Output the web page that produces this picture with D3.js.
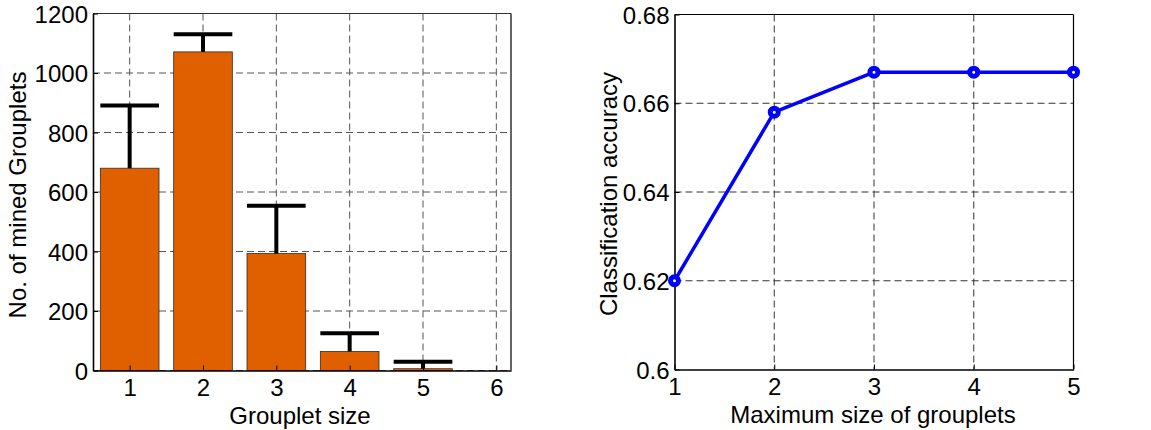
<!DOCTYPE html>
<html><head><meta charset="utf-8">
<script src="https://cdn.jsdelivr.net/npm/d3@7"></script>
<style>
body{margin:0;background:#fff;}
text{font-family:"Liberation Sans",Arial,sans-serif;fill:#000;}
</style></head>
<body><svg id="c" width="1151" height="430"></svg>
<script>
// Left chart data
const groupletSizes = [1, 2, 3, 4, 5, 6];
const minedCounts = [680, 1071, 393, 64, 6, 0];
const minedErrors = [211, 59, 161, 61, 23, 0];
const leftYTicks = [0, 200, 400, 600, 800, 1000, 1200];

// Right chart data
const maxSizes = [1, 2, 3, 4, 5];
const accuracy = [0.620, 0.658, 0.667, 0.667, 0.667];
const rightYTicks = [0.6, 0.62, 0.64, 0.66, 0.68];
const rightYTickLabels = ["0.6", "0.62", "0.64", "0.66", "0.68"];

const svg = d3.select("#c");
const FS = 24;

// ---------- Left chart ----------
const L = {x0: 93, x1: 511, y0: 13.5, y1: 370.5};
const xL = d3.scaleLinear().domain([0.5, 6.2]).range([L.x0, L.x1]);
const yL = d3.scaleLinear().domain([0, 1200]).range([L.y1, L.y0]);
const gL = svg.append("g");

// grid
gL.selectAll(".gx").data(groupletSizes).join("line")
  .attr("x1", d => xL(d)).attr("x2", d => xL(d)).attr("y1", L.y0).attr("y2", L.y1)
  .attr("stroke", "#555").attr("stroke-width", 1).attr("stroke-dasharray", "7,4");
gL.selectAll(".gy").data(leftYTicks).join("line")
  .attr("y1", d => yL(d)).attr("y2", d => yL(d)).attr("x1", L.x0).attr("x2", L.x1)
  .attr("stroke", "#555").attr("stroke-width", 1).attr("stroke-dasharray", "7,4");

// bars
const bw = xL(1.8) - xL(1);
gL.selectAll(".bar").data(groupletSizes).join("rect")
  .attr("x", (d) => xL(d) - bw / 2)
  .attr("y", (d, i) => yL(minedCounts[i]))
  .attr("width", bw)
  .attr("height", (d, i) => yL(0) - yL(minedCounts[i]))
  .attr("fill", "#E06000").attr("stroke", "#3a2a20").attr("stroke-width", 0.8);

// error bars (upper only)
const errIdx = groupletSizes.map((d, i) => i).filter(i => minedErrors[i] > 0);
gL.selectAll(".ev").data(errIdx).join("line")
  .attr("x1", i => xL(groupletSizes[i])).attr("x2", i => xL(groupletSizes[i]))
  .attr("y1", i => yL(minedCounts[i])).attr("y2", i => yL(minedCounts[i] + minedErrors[i]))
  .attr("stroke", "#000").attr("stroke-width", 4);
gL.selectAll(".ec").data(errIdx).join("line")
  .attr("x1", i => xL(groupletSizes[i]) - bw / 2).attr("x2", i => xL(groupletSizes[i]) + bw / 2)
  .attr("y1", i => yL(minedCounts[i] + minedErrors[i])).attr("y2", i => yL(minedCounts[i] + minedErrors[i]))
  .attr("stroke", "#000").attr("stroke-width", 4);

// axes box
gL.append("line").attr("x1", L.x0).attr("x2", L.x1).attr("y1", L.y0).attr("y2", L.y0).attr("stroke", "#333").attr("stroke-width", 1);
gL.append("line").attr("x1", L.x1).attr("x2", L.x1).attr("y1", L.y0).attr("y2", L.y1).attr("stroke", "#000").attr("stroke-width", 1.2);
const axLB = d3.axisBottom(xL).tickValues(groupletSizes).tickSize(-5).tickPadding(7).tickSizeOuter(0).tickFormat(d3.format("d"));
const axLLeft = d3.axisLeft(yL).tickValues(leftYTicks).tickSize(-5).tickPadding(5).tickSizeOuter(0).tickFormat(d3.format("d"));
const gxb = gL.append("g").attr("transform", `translate(0,${L.y1})`).call(axLB);
const gyl = gL.append("g").attr("transform", `translate(${L.x0},0)`).call(axLLeft);
[gxb, gyl].forEach(g => {
  g.attr("font-size", null).attr("font-family", null);
  g.select(".domain").attr("stroke", "#000").attr("stroke-width", 1.6);
  g.selectAll(".tick line").attr("stroke", "#000");
  g.selectAll("text").style("font-size", FS + "px").attr("fill", "#000");
});
gxb.selectAll("text").attr("dy", "0.78em");
gyl.selectAll("text").attr("dy", "0.36em");

gL.append("text").attr("x", 300).attr("y", 424).attr("text-anchor", "middle")
  .style("font-size", FS + "px").text("Grouplet size");
gL.append("text").attr("transform", "translate(26,195) rotate(-90)").attr("text-anchor", "middle")
  .style("font-size", FS + "px").text("No. of mined Grouplets");

// ---------- Right chart ----------
const R = {x0: 674.5, x1: 1073.5, y0: 14.5, y1: 369.5};
const xR = d3.scaleLinear().domain([1, 5]).range([R.x0, R.x1]);
const yR = d3.scaleLinear().domain([0.6, 0.68]).range([R.y1, R.y0]);
const gR = svg.append("g");

gR.selectAll(".gx").data(maxSizes.slice(1, -1)).join("line")
  .attr("x1", d => xR(d)).attr("x2", d => xR(d)).attr("y1", R.y0).attr("y2", R.y1)
  .attr("stroke", "#333").attr("stroke-width", 1).attr("stroke-dasharray", "7,4");
gR.selectAll(".gy").data(rightYTicks.slice(1, -1)).join("line")
  .attr("y1", d => yR(d)).attr("y2", d => yR(d)).attr("x1", R.x0).attr("x2", R.x1)
  .attr("stroke", "#333").attr("stroke-width", 1).attr("stroke-dasharray", "7,4");

gR.append("line").attr("x1", R.x0).attr("x2", R.x1).attr("y1", R.y0).attr("y2", R.y0).attr("stroke", "#000").attr("stroke-width", 1.2);
gR.append("line").attr("x1", R.x1).attr("x2", R.x1).attr("y1", R.y0).attr("y2", R.y1).attr("stroke", "#000").attr("stroke-width", 1.2);
const axRB = d3.axisBottom(xR).tickValues(maxSizes).tickSize(-5).tickPadding(7).tickSizeOuter(0).tickFormat(d3.format("d"));
const axRL = d3.axisLeft(yR).tickValues(rightYTicks).tickSize(-5).tickPadding(5).tickSizeOuter(0)
  .tickFormat((d, i) => rightYTickLabels[i]);
const gxr = gR.append("g").attr("transform", `translate(0,${R.y1})`).call(axRB);
const gyr = gR.append("g").attr("transform", `translate(${R.x0},0)`).call(axRL);
[gxr, gyr].forEach(g => {
  g.attr("font-size", null).attr("font-family", null);
  g.select(".domain").attr("stroke", "#000").attr("stroke-width", 1.6);
  g.selectAll(".tick line").attr("stroke", "#000");
  g.selectAll("text").style("font-size", FS + "px").attr("fill", "#000");
});
gxr.selectAll("text").attr("dy", "0.78em");
gyr.selectAll("text").attr("dy", "0.36em");

const line = d3.line().x((d, i) => xR(maxSizes[i])).y(d => yR(d));
gR.append("path").datum(accuracy).attr("d", line).attr("fill", "none")
  .attr("stroke", "#0000FF").attr("stroke-width", 3.5).attr("stroke-linejoin", "round");
gR.selectAll(".pt").data(accuracy).join("circle")
  .attr("cx", (d, i) => xR(maxSizes[i])).attr("cy", d => yR(d)).attr("r", 4)
  .attr("fill", "#fff").attr("stroke", "#0000FF").attr("stroke-width", 5);

gR.append("text").attr("x", 873).attr("y", 423).attr("text-anchor", "middle")
  .style("font-size", FS + "px").text("Maximum size of grouplets");
gR.append("text").attr("transform", "translate(617,194) rotate(-90)").attr("text-anchor", "middle")
  .style("font-size", FS + "px").text("Classification accuracy");
</script></body></html>
